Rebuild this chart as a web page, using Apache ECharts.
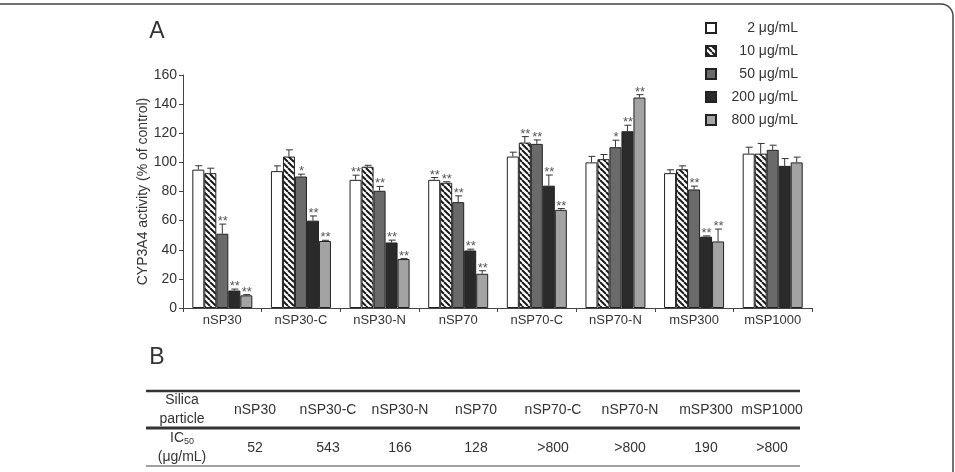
<!DOCTYPE html>
<html>
<head>
<meta charset="utf-8">
<script src="https://cdn.jsdelivr.net/npm/echarts@6/dist/echarts.min.js"></script>
<style>
  html, body { margin: 0; padding: 0; background: #fff; }
  #chart { width: 955px; height: 472px; }
</style>
</head>
<body>
<div id="chart"></div>
<script>
// silica particle types
const categories = ['nSP30', 'nSP30-C', 'nSP30-N', 'nSP70', 'nSP70-C', 'nSP70-N', 'mSP300', 'mSP1000']
const concentrations = ['2 μg/mL', '10 μg/mL', '50 μg/mL', '200 μg/mL', '800 μg/mL']

// CYP3A4 activity (% of control), one array per concentration
const act2 = [95, 94, 88, 88, 104, 100, 92.6, 106]
const act10 = [92.6, 104, 97, 86, 113.6, 102.2, 95.3, 106]
const act50 = [51, 90.3, 80.5, 72.7, 112.7, 110.4, 81.4, 108.6]
const act200 = [12, 60, 45, 39.5, 84, 121.4, 49, 97.6]
const act800 = [8.7, 46, 33.6, 23.5, 67.4, 144.5, 45.7, 100]

// error bars (upper)
const err2 = [2.7, 3.6, 3.2, 1.6, 3, 4.1, 2.3, 4.4]
const err10 = [3.4, 4.6, 1, 0.7, 4.1, 3.2, 2.3, 7]
const err50 = [6.6, 1.6, 3, 4.3, 2.7, 4.8, 2.3, 3.2]
const err200 = [1, 3.2, 1.6, 0.9, 7.3, 4.1, 0.5, 5]
const err800 = [0.5, 0.5, 0.3, 2.1, 0.9, 2, 8.5, 3.6]

// significance marks
const sig2 = ['', '', '**', '**', '', '', '', '']
const sig10 = ['', '', '', '**', '**', '', '', '']
const sig50 = ['**', '*', '**', '**', '**', '*', '**', '']
const sig200 = ['**', '**', '**', '**', '**', '**', '**', '']
const sig800 = ['**', '**', '**', '**', '**', '**', '**', '']

// table B
const tableHeader = ['nSP30', 'nSP30-C', 'nSP30-N', 'nSP70', 'nSP70-C', 'nSP70-N', 'mSP300', 'mSP1000']
const ic50 = ['52', '543', '166', '128', '>800', '>800', '190', '>800']

const yTicks = [0, 20, 40, 60, 80, 100, 120, 140, 160]

const FONT = '"Liberation Sans", Arial, sans-serif'
const BAR_W = 12

// diagonal hatch pattern
const makeHatch = () => {
  const c = document.createElement('canvas')
  c.width = 6
  c.height = 6
  const ctx = c.getContext('2d')
  ctx.fillStyle = '#fff'
  ctx.fillRect(0, 0, 6, 6)
  ctx.strokeStyle = '#1a1a1a'
  ctx.lineWidth = 2
  for (let k = -1; k <= 1; k++) {
    ctx.beginPath()
    ctx.moveTo(k * 6, 0)
    ctx.lineTo(k * 6 + 6, 6)
    ctx.stroke()
  }
  return c
}

const colors = ['#ffffff', { image: makeHatch(), repeat: 'repeat' }, '#6a6a6a', '#2a2a2a', '#a3a3a3']
const values = [act2, act10, act50, act200, act800]
const errors = [err2, err10, err50, err200, err800]
const sigs = [sig2, sig10, sig50, sig200, sig800]

const chart = echarts.init(document.getElementById('chart'))

const barSeries = concentrations.map((name, i) => ({
  name,
  type: 'bar',
  data: values[i],
  barWidth: BAR_W,
  barGap: '0%',
  itemStyle: { color: colors[i], borderColor: '#222', borderWidth: 1 },
  emphasis: { disabled: true }
}))

// error bars + significance stars
const errSeries = concentrations.map((name, i) => ({
  type: 'custom',
  z: 5,
  silent: true,
  data: values[i].map((v, j) => [j, v, errors[i][j]]),
  renderItem: (params, api) => {
    const idx = api.value(0)
    const v = api.value(1)
    const e = api.value(2)
    const base = api.coord([idx, v])
    const top = api.coord([idx, v + e])
    const x = base[0] + (i - 2) * BAR_W
    const star = sigs[i][params.dataIndex]
    const children = [
      { type: 'line', shape: { x1: x, y1: base[1], x2: x, y2: top[1] }, style: { stroke: '#333', lineWidth: 1 } },
      { type: 'line', shape: { x1: x - 3, y1: top[1], x2: x + 4, y2: top[1] }, style: { stroke: '#333', lineWidth: 1 } }
    ]
    if (star) {
      children.push({
        type: 'text',
        style: {
          x: x + 0.5, y: top[1] + 4, text: star, textAlign: 'center', textVerticalAlign: 'bottom',
          fill: '#555', font: '13px ' + FONT
        }
      })
    }
    return { type: 'group', children }
  }
}))

// table graphics
const colX = [255, 328, 400, 476, 553, 630, 706, 772]
const tableGraphics = [
  { type: 'line', shape: { x1: 146, y1: 391, x2: 800, y2: 391 }, style: { stroke: '#333', lineWidth: 2.5 } },
  { type: 'line', shape: { x1: 146, y1: 428, x2: 800, y2: 428 }, style: { stroke: '#333', lineWidth: 3 } },
  { type: 'line', shape: { x1: 146, y1: 466, x2: 800, y2: 466 }, style: { stroke: '#444', lineWidth: 1.2 } },
  { type: 'text', x: 157, y: 358, style: { text: 'B', textAlign: 'center', textVerticalAlign: 'middle', font: '23px ' + FONT, fill: '#333' } },
  { type: 'text', x: 157, y: 32, style: { text: 'A', textAlign: 'center', textVerticalAlign: 'middle', font: '23px ' + FONT, fill: '#333' } },
  { type: 'text', x: 182, y: 410, style: { text: 'Silica\nparticle', textAlign: 'center', textVerticalAlign: 'middle', font: '14px ' + FONT, fill: '#333', lineHeight: 19 } },
  {
    type: 'text', x: 182, y: 448,
    style: {
      text: '{n|IC}{s|50}\n{n|(μg/mL)}', textAlign: 'center', textVerticalAlign: 'middle', fill: '#333',
      rich: {
        n: { font: '14px ' + FONT, fill: '#333', lineHeight: 19 },
        s: { font: '9px ' + FONT, fill: '#333', padding: [6, 0, 0, 0] }
      }
    }
  },
  {
    type: 'rect', silent: true,
    shape: { x: -20, y: 4, width: 973, height: 600, r: 12 },
    style: { fill: 'none', stroke: '#444', lineWidth: 1.5 }
  }
]
tableHeader.forEach((t, k) => {
  tableGraphics.push({ type: 'text', x: colX[k], y: 410, style: { text: t, textAlign: 'center', textVerticalAlign: 'middle', font: '14px ' + FONT, fill: '#333' } })
  tableGraphics.push({ type: 'text', x: colX[k], y: 448, style: { text: ic50[k], textAlign: 'center', textVerticalAlign: 'middle', font: '14px ' + FONT, fill: '#333' } })
})

const option = {
  animation: false,
  textStyle: { fontFamily: FONT },
  grid: { left: 183, right: 143, top: 75, bottom: 164 },
  legend: {
    data: concentrations,
    orient: 'vertical',
    left: 700,
    top: 16,
    itemWidth: 10,
    itemHeight: 10,
    itemGap: 9,
    icon: 'rect',
    selectedMode: false,
    formatter: name => '{t|' + name + '}',
    textStyle: {
      rich: { t: { width: 77, align: 'right', fontSize: 14, color: '#333', fontFamily: FONT, lineHeight: 14 } }
    }
  },
  xAxis: {
    type: 'category',
    data: categories,
    axisLine: { lineStyle: { color: '#444', width: 1 } },
    axisTick: { show: true, alignWithLabel: false, length: 4, lineStyle: { color: '#444' } },
    axisLabel: { color: '#333', fontSize: 13, margin: 6 }
  },
  yAxis: {
    type: 'value',
    min: 0,
    max: 160,
    interval: 20,
    name: 'CYP3A4 activity (% of control)',
    nameLocation: 'middle',
    nameGap: 33,
    nameMoveOverlap: false,
    nameTextStyle: { color: '#333', fontSize: 14 },
    axisLine: { show: true, lineStyle: { color: '#444', width: 1 } },
    axisTick: { show: true, length: 4, lineStyle: { color: '#444' } },
    axisLabel: { color: '#333', fontSize: 14, margin: 6, formatter: v => (yTicks.includes(v) ? String(v) : '') },
    splitLine: { show: false }
  },
  series: [...barSeries, ...errSeries],
  graphic: tableGraphics
}

chart.setOption(option)
</script>
</body>
</html>
